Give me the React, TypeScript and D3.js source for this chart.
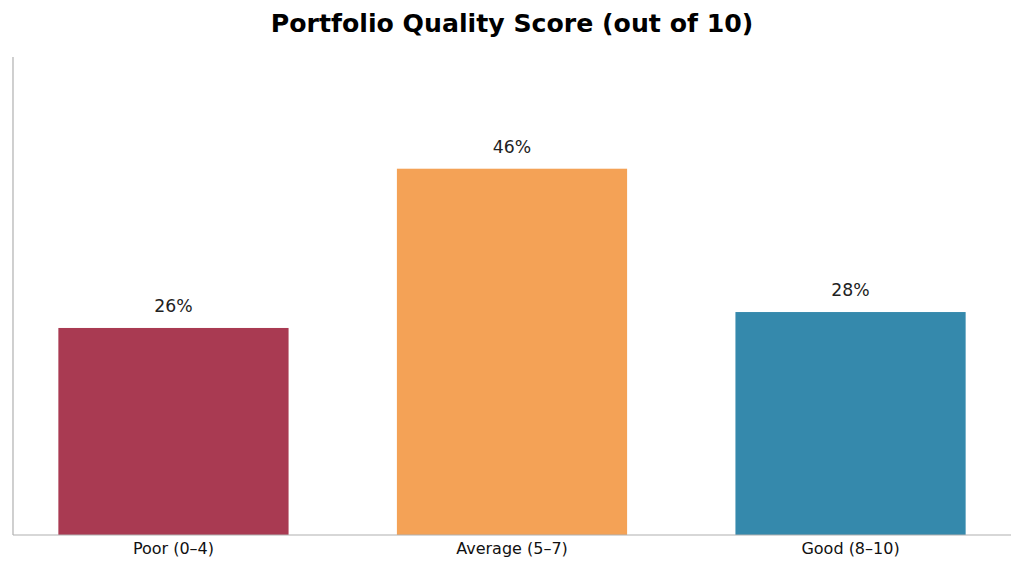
import React from "react";
import * as d3 from "d3";

const categories: string[] = ["Poor (0–4)", "Average (5–7)", "Good (8–10)"];
const values: number[] = [26, 46, 28];
const colors: string[] = ["#A93A52", "#F4A256", "#3589AC"];
const title = "Portfolio Quality Score (out of 10)";

const W = 1024;
const H = 570;
const margin = { left: 13, right: 13, top: 57, bottom: 35 };
const FONT = "'DejaVu Sans', Verdana, sans-serif";

export default function App() {
  const x0 = margin.left;
  const x1 = W - margin.right;
  const yBase = H - margin.bottom;
  const barW = 0.68;
  const n = categories.length;
  const lo = -barW / 2;
  const hi = n - 1 + barW / 2;
  const pad = (hi - lo) * 0.05;
  const x = d3.scaleLinear().domain([lo - pad, hi + pad]).range([x0, x1]);
  const yMax = (d3.max(values) as number) * 1.305;
  const y = d3.scaleLinear().domain([0, yMax]).range([yBase, margin.top]);

  return (
    <div style={{ margin: -8 }}>
      <svg width={W} height={H} style={{ display: "block", background: "#fff" }}>
        <text x={W / 2} y={32} textAnchor="middle" fontFamily={FONT} fontWeight="bold" fontSize={25.2} fill="#000">
          {title}
        </text>
        {values.map((v, i) => (
          <g key={i}>
            <rect
              x={x(i - barW / 2)}
              y={y(v)}
              width={x(i + barW / 2) - x(i - barW / 2)}
              height={yBase - y(v)}
              fill={colors[i]}
            />
            <text x={x(i)} y={y(v) - 16} textAnchor="middle" fontFamily={FONT} fontSize={17.3} fill="#222">
              {`${v}%`}
            </text>
            <text x={x(i)} y={yBase + 19} textAnchor="middle" fontFamily={FONT} fontSize={16} fill="#111">
              {categories[i]}
            </text>
          </g>
        ))}
        <line x1={x0} x2={x0} y1={margin.top} y2={yBase} stroke="#b0b0b0" strokeWidth={1.2} />
        <line x1={x0} x2={x1} y1={yBase} y2={yBase} stroke="#b0b0b0" strokeWidth={1.2} />
      </svg>
    </div>
  );
}
